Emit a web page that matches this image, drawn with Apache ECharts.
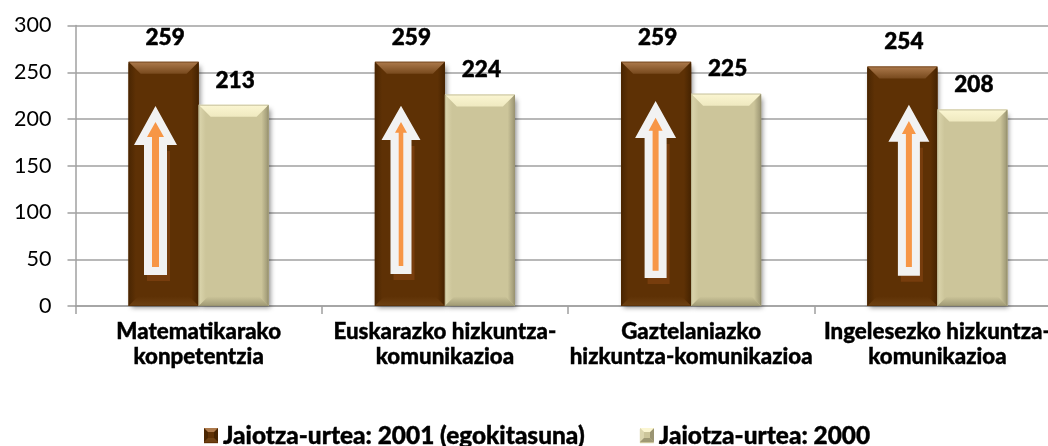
<!DOCTYPE html>
<html><head><meta charset="utf-8">
<style>html,body{margin:0;padding:0;background:#fff}#c{width:1048px;height:446px;overflow:hidden}</style>
<script src="https://cdn.jsdelivr.net/npm/echarts@6/dist/echarts.min.js"></script>
</head><body><div id="c"></div>
<script>
const categories = ['Matematikarako\nkonpetentzia','Euskarazko hizkuntza-\nkomunikazioa','Gaztelaniazko\nhizkuntza-komunikazioa','Ingelesezko hizkuntza-\nkomunikazioa'];
const seriesNames = ['Jaiotza-urtea: 2001 (egokitasuna)','Jaiotza-urtea: 2000'];
const values2001 = [259,259,259,254];
const values2000 = [213,224,225,208];
const yTicks = [0,50,100,150,200,250,300];

const FONT = 'Lato';
const BAR_W = 70;
const G = echarts.graphic;
const themes = [
  {base:'#5E3105', top:['#AD7A4C','#77491D'], left:'#4A2602', right:'#452301', bottom:'#6D4113', edge:'#4A2602'},
  {base:'#CCC59A', top:['#FBF6D2','#EFE9C0'], left:'#DCD6AE', right:'#9A9472', bottom:'#9F9974', edge:'#8F8A68'}
];
function bevel(side){
  const t = themes[side];
  return function(params, api){
    const i = api.value(0);
    const p = api.coord([i, api.value(1)]);
    const y0 = api.coord([i, 0])[1];
    const x = side === 0 ? p[0]-BAR_W : p[0];
    const yT = p[1]-2, w = BAR_W, b = 12, sx = 12, r = x+w;
    const poly = (pts, fill) => ({type:'polygon', shape:{points:pts}, style:{fill:fill}, silent:true});
    const grad = (x0,y0_,x1,y1,c0,c1,stop) => new G.LinearGradient(x0,y0_,x1,y1,[{offset:0,color:c0},{offset:stop,color:c1},{offset:1,color:c1}]);
    return {type:'group', children:[
      {type:'rect', shape:{x:x,y:yT,width:w,height:y0-yT}, style:{fill:t.base}},
      poly([[x,yT],[x+sx,yT+b],[x+sx,y0-b],[x,y0]], grad(0,0,1,0,t.left,t.base,.6)),
      poly([[r,yT],[r-sx,yT+b],[r-sx,y0-b],[r,y0]], grad(1,0,0,0,t.right,t.base,.6)),
      poly([[x,y0],[x+sx,y0-b],[r-sx,y0-b],[r,y0]], grad(0,1,0,0,t.bottom,t.base,.8)),
      poly([[x,yT],[r,yT],[r-sx,yT+b],[x+sx,yT+b]], new G.LinearGradient(0,0,0,1,[{offset:0,color:t.top[0]},{offset:1,color:t.top[1]}])),
      {type:'rect', shape:{x:x+.5,y:yT+.5,width:w-1,height:y0-yT-1}, style:{fill:'none',stroke:t.edge,lineWidth:1,opacity:.4}}
    ]};
  };
}
// Annotation arrows laid over the brown bars (pixel geometry of the drawn overlay)
const arrowShapes = [
  {c:155.5, w:{tip:106,hb:145,hh:21.5,sh:11.5,bot:275}, o:{tip:122,hb:137,hh:8.5,sh:3.5,bot:267}},
  {c:401,   w:{tip:105.7,hb:140,hh:19.5,sh:10.5,bot:274}, o:{tip:122,hb:132.7,hh:6,sh:2.3,bot:266}},
  {c:655.6, w:{tip:101,hb:138,hh:20.5,sh:11,bot:278}, o:{tip:117.7,hb:130.7,hh:7,sh:3,bot:270.7}},
  {c:908.9, w:{tip:104.7,hb:141.7,hh:20.5,sh:11,bot:275.7}, o:{tip:121,hb:134,hh:7,sh:3,bot:267}}
];
function arrowPoly(c,a,fill,dx,dy,z){
  return {type:'polygon', z:z, silent:true, style:{fill:fill}, shape:{points:[
    [c+dx,a.tip+dy],[c+a.hh+dx,a.hb+dy],[c+a.sh+dx,a.hb+dy],[c+a.sh+dx,a.bot+dy],
    [c-a.sh+dx,a.bot+dy],[c-a.sh+dx,a.hb+dy],[c-a.hh+dx,a.hb+dy]]}};
}
const graphics = [];
arrowShapes.forEach(s=>{
  const shadow = {tip:s.w.hb,hb:s.w.hb,hh:s.w.hh,sh:s.w.sh,bot:s.w.bot};
  graphics.push(arrowPoly(s.c,shadow,'#773D0D',3,6,20));
  graphics.push(arrowPoly(s.c,s.w,'#F2F2F2',0,0,21));
  graphics.push(arrowPoly(s.c,s.o,'#F79646',0,0,22));
});
// legend swatch bevels
const LEGEND_SWATCH_X = [204, 640], LEGEND_SWATCH_Y = 428;
function swatch(x,y,t){
  const s=14,b=4;
  const p=(pts,f)=>({type:'polygon',z:30,silent:true,style:{fill:f},shape:{points:pts}});
  return [
    p([[x,y],[x+s,y],[x+s,y+s],[x,y+s]],t.base),
    p([[x,y],[x+b,y+b],[x+b,y+s-b],[x,y+s]],t.left),
    p([[x+s,y],[x+s-b,y+b],[x+s-b,y+s-b],[x+s,y+s]],t.right),
    p([[x,y+s],[x+b,y+s-b],[x+s-b,y+s-b],[x+s,y+s]],t.bottom),
    p([[x,y],[x+s,y],[x+s-b,y+b],[x+b,y+b]],t.top[0])
  ];
}
graphics.push(...swatch(LEGEND_SWATCH_X[0],LEGEND_SWATCH_Y,themes[0]));
graphics.push(...swatch(LEGEND_SWATCH_X[1],LEGEND_SWATCH_Y,themes[1]));

function barSeries(name, data, color){
  return {
    name:name, type:'bar', data:data, barWidth:BAR_W, barGap:0, z:2,
    itemStyle:{color:color, shadowColor:'rgba(0,0,0,0.45)', shadowBlur:5, shadowOffsetX:2, shadowOffsetY:2},
    label:{show:true, position:'top', distance:15, offset:[1.5,0], color:'#000', fontFamily:FONT, fontWeight:900, fontSize:22.5, textBorderColor:'#000', textBorderWidth:0.5}
  };
}
function overlay(name, data, side){
  return {name:name+' bevel', type:'custom', z:3, silent:true, clip:false,
    data:data.map((v,i)=>[i,v]), encode:{x:0,y:1}, renderItem:bevel(side), tooltip:{show:false}};
}
const chart = echarts.init(document.getElementById('c'), null, {renderer:'canvas'});
chart.setOption({
  animation:false,
  backgroundColor:'#fff',
  textStyle:{fontFamily:FONT},
  grid:{left:75.5, top:25.5, width:985, height:280.5, containLabel:false, outerBoundsMode:'none'},
  legend:{
    left:204, top:424, itemWidth:14, itemHeight:14, itemGap:55,
    icon:'rect', padding:0, data:seriesNames, formatter:n=>'{t|'+n+'}',
    textStyle:{rich:{t:{fontFamily:FONT, fontWeight:900, fontSize:24.4, color:'#000', textBorderColor:'#000', textBorderWidth:0.4}}}
  },
  xAxis:{
    type:'category', data:categories,
    axisLine:{lineStyle:{color:'#A0A0A0',width:1.5}},
    axisTick:{show:true,length:8,lineStyle:{color:'#A0A0A0',width:1.5}},
    axisLabel:{interval:0, margin:14, color:'#000', fontFamily:FONT, fontWeight:900, fontSize:22.3, lineHeight:24.5, hideOverlap:false, textBorderColor:'#000', textBorderWidth:0.4}
  },
  yAxis:{
    type:'value', min:yTicks[0], max:yTicks[yTicks.length-1], interval:yTicks[1]-yTicks[0],
    axisLine:{show:true,lineStyle:{color:'#A0A0A0',width:1.5}},
    axisTick:{show:true,length:8,lineStyle:{color:'#A0A0A0',width:1.5}},
    splitLine:{lineStyle:{color:'#A0A0A0',width:1.5}},
    axisLabel:{margin:24, color:'#000', fontFamily:FONT, fontSize:21.5}
  },
  series:[
    barSeries(seriesNames[0], values2001, themes[0].base),
    barSeries(seriesNames[1], values2000, themes[1].base),
    overlay(seriesNames[0], values2001, 0),
    overlay(seriesNames[1], values2000, 1)
  ],
  graphic:{elements:graphics}
});
</script></body></html>
